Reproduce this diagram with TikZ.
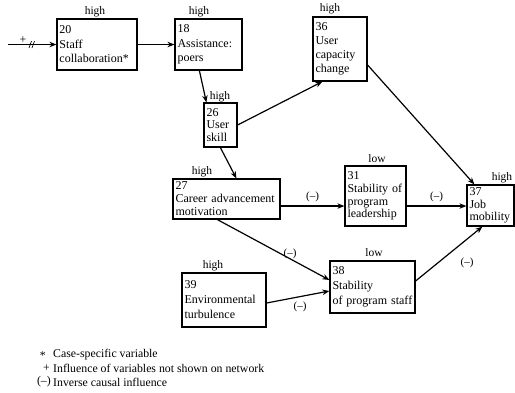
\documentclass[tikz,border=0pt]{standalone}
\usepackage{fontspec}
\setmainfont{Liberation Serif}
\usetikzlibrary{arrows.meta}
\begin{document}
\begin{tikzpicture}[x=1pt,y=-1pt,
  box/.style={draw, line width=1.2pt, align=left, inner xsep=2.5pt, inner ysep=1pt, anchor=center},
  fs/.style={font=\fontsize{12}{#1}\selectfont},
  lev/.style={font=\fontsize{11.5}{12}\selectfont, inner sep=0pt},
  link/.style={line width=1.2pt, -{Stealth[length=7pt,width=5.5pt]}},
  neg/.style={font=\fontsize{11}{12}\selectfont, inner sep=1pt},
  leg/.style={font=\fontsize{11.8}{12}\selectfont, inner sep=0pt},
]
\useasboundingbox (0,0) rectangle (515,392);

% variables
\node[box, fs=14.5, text width=75pt, minimum height=51pt] (n20) at (97,44.5) {20\\Staff\\collaboration*};
\node[box, fs=14.5, text width=62pt, minimum height=51pt] (n18) at (208.5,44.5) {18\\Assistance:\\poers};
\node[box, fs=12.5, text width=28pt, minimum height=44pt] (n26) at (220.5,125) {26\\User\\skill};
\node[box, fs=14, text width=49pt, minimum height=64pt] (n36) at (340,49) {36\\User\\capacity\\change};
\node[box, fs=13, text width=102pt, minimum height=40pt] (n27) at (226.5,199) {27\\Career advancement\\motivation};
\node[box, fs=12.8, text width=56pt, minimum height=60pt] (n31) at (375.5,196) {31\\Stability of\\program\\leadership};
\node[box, fs=12.5, text width=42pt, minimum height=41pt] (n37) at (490.5,205.5) {37\\Job\\mobility};
\node[box, fs=15, text width=80pt, minimum height=52pt] (n38) at (372.5,287) {38\\Stability\\of program staff};
\node[box, fs=15, text width=79pt, minimum height=54pt] (n39) at (224,300) {39\\Environmental\\turbulence};

% levels
\node[lev] (l20) at (95,12) {high};
\node[lev] (l18) at (199,12) {high};
\node[lev] (l26) at (220,97) {high};
\node[lev] (l36) at (330,9) {high};
\node[lev] (l27) at (202,172) {high};
\node[lev] (l31) at (377,159) {low};
\node[lev] (l37) at (502,178) {high};
\node[lev] (l38) at (374,253) {low};
\node[lev] (l39) at (213,266) {high};

% outside influence
\coordinate (src) at (8,44.5);
\draw[link] (src) -- (src -| n20.west);
\node[inner sep=0pt, font=\fontsize{12}{12}\selectfont] (plus) at (23,40) {+};
\draw[line width=0.7pt] (29,48) -- (31.5,41);
\draw[line width=0.7pt] (32,48) -- (34.5,41);

% causal links
\draw[link] (n20) -- (n18);
\draw[link] ([xshift=25pt]n18.south west) -- ([xshift=3pt]n26.north west);
\draw[link] (n26.east) -- ([xshift=10pt]n36.south west);
\draw[link] ([xshift=17pt]n26.south west) -- ([xshift=64pt]n27.north west);
\draw[link] ([yshift=-16pt]n36.east) -- ([xshift=8pt]n37.north west);
\draw[link] ([yshift=-7pt]n27.east) -- ([yshift=-7pt]n27.east -| n31.west)
  node[neg, midway, above=3pt] (c1) {(--)};
\draw[link] ([yshift=-10pt]n31.east) -- ([yshift=-10pt]n31.east -| n37.west)
  node[neg, midway, above=3pt] (c2) {(--)};
\draw[link] ([xshift=45pt]n27.south west) -- ([yshift=7pt]n38.west);
\node[neg] (c3) at (290,254) {(--)};
\draw[link] ([yshift=-3pt]n39.east) -- ([yshift=-4pt]n38.west);
\node[neg] (c4) at (300,307) {(--)};
\draw[link] ([yshift=6pt]n38.east) -- ([xshift=16pt]n37.south west);
\node[neg] (c5) at (467,263) {(--)};

% legend
\node[leg, anchor=east] (k1) at (46,356) {*};
\node[leg, anchor=west] (t1) at (53,355) {Case-specific variable};
\node[leg, anchor=east] (k2) at (50,368) {+};
\node[leg, anchor=west] (t2) at (53,368) {Influence of variables not shown on network};
\node[leg, anchor=east] (k3) at (51,382) {(--)};
\node[leg, anchor=west] (t3) at (53,382) {Inverse causal influence};
\end{tikzpicture}
\end{document}
